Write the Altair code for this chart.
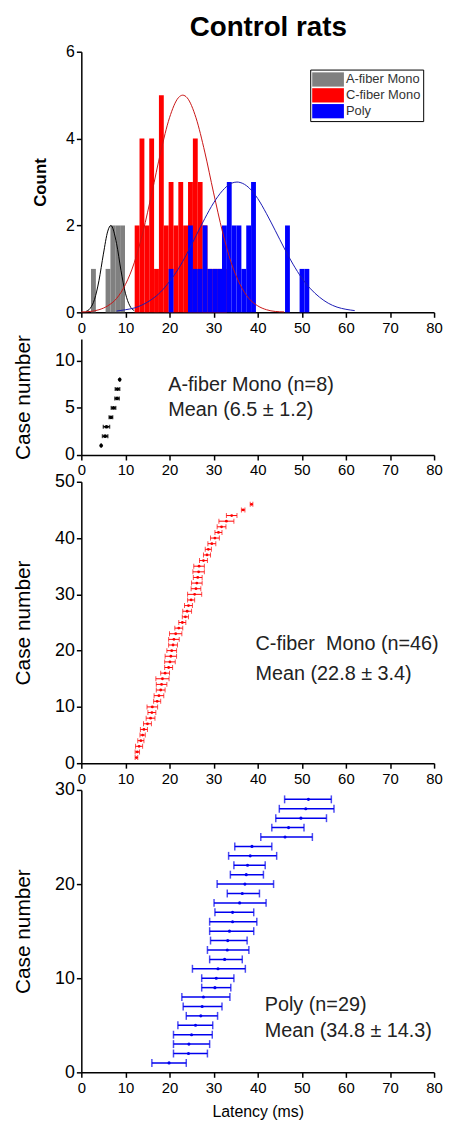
import altair as alt
import pandas as pd

FONT = "Liberation Sans"

# ---------------- Histogram (top panel) ----------------
groups = ["A-fiber Mono", "C-fiber Mono", "Poly"]
bar_fills = ["#808080", "#FF0000", "#0000FF"]
curve_colors = ["#000000", "#C81414", "#1A1AB4"]
bin_width = 1.1

a_bins = [2.2, 5.5, 6.6, 7.7, 8.8]
a_counts = [1, 1, 2, 2, 2]
c_bins = [12.1, 13.2, 14.3, 15.4, 16.5, 17.6, 18.7, 19.8, 20.9, 22.0, 23.1, 24.2,
          25.3, 26.4, 27.5, 28.6, 29.7, 30.8, 31.9]
c_counts = [2, 4, 2, 4, 1, 5, 2, 3, 2, 3, 2, 3, 4, 3, 2, 1, 1, 1, 1]
p_bins = [19.8, 24.2, 25.3, 26.4, 27.5, 28.6, 29.7, 30.8, 31.9, 33.0, 34.1, 35.2,
          36.3, 37.4, 38.5, 46.2, 49.5, 50.6]
p_counts = [1, 2, 1, 1, 2, 1, 1, 1, 2, 3, 2, 2, 1, 2, 3, 2, 1, 1]

# fitted curves
a_curve_x = [1, 2, 3, 4, 5, 6, 6.7, 8, 9, 10, 11, 12]
a_curve_y = [0.02, 0.09, 0.3, 0.73, 1.34, 1.87, 2.0, 1.58, 0.96, 0.44, 0.15, 0.04]
c_curve_x = [0, 2, 4, 6, 8, 10, 12, 14, 16, 18, 20, 22, 23, 24, 26, 28, 30, 32, 34,
             36, 38, 40, 42, 44, 46]
c_curve_y = [0.01, 0.02, 0.06, 0.15, 0.32, 0.64, 1.14, 1.86, 2.75, 3.69, 4.48, 4.94,
             5.0, 4.94, 4.48, 3.69, 2.75, 1.86, 1.14, 0.64, 0.32, 0.15, 0.06, 0.02, 0.01]
p_curve_x = [8, 10, 12, 14, 16, 18, 20, 22, 24, 26, 28, 30, 32, 34, 35.3, 36, 38, 40,
             42, 44, 46, 48, 50, 52, 54, 56, 58, 60, 62]
p_curve_y = [0.03, 0.06, 0.1, 0.18, 0.3, 0.47, 0.71, 1.0, 1.36, 1.76, 2.16, 2.52, 2.8,
             2.97, 3.0, 2.99, 2.87, 2.62, 2.27, 1.88, 1.48, 1.11, 0.79, 0.54, 0.35,
             0.21, 0.12, 0.07, 0.04]

# ---------------- Case panels ----------------
a_case = list(range(1, 9))
a_mean = [4.5, 5.4, 5.7, 6.7, 7.3, 8.1, 8.2, 8.7]
a_err = [0.0, 0.6, 0.7, 0.4, 0.5, 0.5, 0.5, 0.0]

c_case = list(range(1, 47))
c_mean = [12.5, 12.7, 13.1, 13.5, 13.9, 14.2, 15.0, 15.7, 16.0, 16.1, 17.2, 17.6, 18.0,
          18.2, 18.4, 19.0, 19.8, 20.1, 20.3, 20.5, 20.8, 21.0, 21.4, 22.1, 22.9, 23.6,
          24.0, 24.3, 24.9, 25.7, 26.0, 26.2, 26.4, 26.6, 26.7, 27.7, 28.5, 28.8, 29.6,
          30.3, 31.1, 31.8, 32.9, 34.1, 36.7, 38.6]
c_err = [0.3, 0.5, 0.8, 0.7, 0.6, 0.8, 0.9, 1.0, 0.9, 1.2, 0.8, 1.1, 1.0, 1.2, 1.5, 1.0,
         0.9, 1.2, 1.3, 1.1, 1.0, 1.2, 1.4, 0.9, 0.8, 0.7, 1.0, 0.9, 0.8, 1.6, 1.1, 1.2,
         1.0, 1.3, 1.2, 0.9, 0.8, 0.7, 0.9, 1.0, 0.8, 1.0, 1.7, 1.2, 0.4, 0.3]

p_case = list(range(1, 30))
p_mean = [19.9, 24.3, 24.4, 25.0, 25.9, 27.1, 27.4, 27.7, 30.3, 30.6, 31.0, 32.5, 33.1,
          33.2, 33.6, 34.3, 34.3, 35.9, 36.5, 37.1, 37.4, 37.7, 38.3, 38.7, 46.2, 47.0,
          49.8, 50.9, 51.5]
p_lo = [16.0, 20.9, 20.9, 20.9, 21.9, 23.8, 23.1, 22.8, 27.3, 27.3, 25.2, 29.1, 28.6,
        29.3, 29.1, 29.1, 30.3, 30.1, 33.1, 30.8, 33.8, 34.6, 33.4, 34.8, 40.7, 43.2,
        44.1, 44.9, 46.1]
p_hi = [23.8, 28.6, 29.1, 29.7, 29.8, 30.9, 31.9, 33.7, 33.9, 34.6, 37.2, 36.5, 38.0,
        37.6, 39.1, 39.8, 39.1, 41.9, 40.4, 43.6, 41.3, 41.7, 44.3, 43.2, 52.4, 50.5,
        55.6, 57.3, 56.7]

a_text = ["A-fiber Mono (n=8)", "Mean (6.5 \u00b1 1.2)"]
a_text_x = [19.7, 19.7]
a_text_y = [7.4, 4.8]
c_text = ["C-fiber\u00a0 Mono (n=46)", "Mean (22.8 \u00b1 3.4)"]
c_text_x = [39.5, 39.5]
c_text_y = [21.1, 15.8]
p_text = ["Poly (n=29)", "Mean (34.8 \u00b1 14.3)"]
p_text_x = [41.6, 41.6]
p_text_y = [7.2, 4.4]

# ---------------- Tables ----------------
hist = pd.DataFrame({
    "start": a_bins + c_bins + p_bins,
    "count": a_counts + c_counts + p_counts,
    "group": [groups[0]] * len(a_bins) + [groups[1]] * len(c_bins) + [groups[2]] * len(p_bins),
})
hist["end"] = hist["start"] + bin_width

curves = pd.DataFrame({
    "x": a_curve_x + c_curve_x + p_curve_x,
    "y": a_curve_y + c_curve_y + p_curve_y,
    "group": [groups[0]] * len(a_curve_x) + [groups[1]] * len(c_curve_x) + [groups[2]] * len(p_curve_x),
})

a_df = pd.DataFrame({"case": a_case, "mean": a_mean, "err": a_err})
a_df["lo"] = a_df["mean"] - a_df["err"]
a_df["hi"] = a_df["mean"] + a_df["err"]
c_df = pd.DataFrame({"case": c_case, "mean": c_mean, "err": c_err})
c_df["lo"] = c_df["mean"] - c_df["err"]
c_df["hi"] = c_df["mean"] + c_df["err"]
p_df = pd.DataFrame({"case": p_case, "mean": p_mean, "lo": p_lo, "hi": p_hi})

W = 356
X_SCALE = alt.Scale(domain=[0, 80], nice=False, zero=False)


def x_axis(title=None):
    return alt.Axis(values=list(range(0, 81, 5)),
                    labelExpr="datum.value % 10 === 0 ? datum.label : ''",
                    title=title, labelFontSize=15, titleFontSize=16,
                    titleFontWeight="normal", titlePadding=9, labelPadding=3,
                    labelFlush=False)


# ---------------- Panel 1 ----------------
bars = alt.Chart(hist).mark_bar(strokeWidth=0, opacity=1).encode(
    x=alt.X("start:Q", scale=X_SCALE, axis=x_axis()),
    x2="end:Q",
    y=alt.Y("count:Q", scale=alt.Scale(domain=[0, 6], nice=False),
            axis=alt.Axis(values=[0, 2, 4, 6], title="Count", titleFontWeight="bold",
                          titleFontSize=17, labelFontSize=16, titlePadding=16)),
    y2=alt.datum(0),
    fill=alt.Fill("group:N", scale=alt.Scale(domain=groups, range=bar_fills),
                  legend=alt.Legend(title=None, orient="none", legendX=231, legendY=18,
                                    direction="vertical",
                                    symbolType="M-2,-0.9H2V0.9H-2Z", symbolSize=256,
                                    symbolStrokeWidth=0, symbolOffset=8,
                                    labelOffset=10, labelFontSize=13,
                                    labelColor="#333333", rowPadding=0, padding=2,
                                    strokeColor="#000000", fillColor="#FFFFFF")),
)
lines = alt.Chart(curves).mark_line(strokeWidth=1, interpolate="monotone").encode(
    x=alt.X("x:Q", scale=X_SCALE),
    y=alt.Y("y:Q"),
    stroke=alt.Stroke("group:N", scale=alt.Scale(domain=groups, range=curve_colors),
                      legend=None),
)
panel1 = alt.layer(bars, lines).properties(width=W, height=263)


# ---------------- Case panels ----------------
def case_panel(df, texts, tx, ty, color, ymax, yvals, height, cap, dot, rule_w,
               xtitle=None):
    y_enc = alt.Y("case:Q", scale=alt.Scale(domain=[0, ymax], nice=False),
                  axis=alt.Axis(values=yvals, title="Case number", titleFontSize=21,
                                titleFontWeight="normal", labelFontSize=18,
                                titlePadding=21))
    base = alt.Chart(df)
    rule = base.mark_rule(color=color, strokeWidth=rule_w).encode(
        x=alt.X("lo:Q", scale=X_SCALE, axis=x_axis(xtitle)), x2="hi:Q", y=y_enc)
    cap_lo = base.mark_tick(color=color, orient="vertical", size=cap,
                            thickness=rule_w).encode(x="lo:Q", y="case:Q")
    cap_hi = base.mark_tick(color=color, orient="vertical", size=cap,
                            thickness=rule_w).encode(x="hi:Q", y="case:Q")
    pts = base.mark_point(color=color, filled=True, size=dot, opacity=1).encode(
        x="mean:Q", y="case:Q")
    tdf = pd.DataFrame({"x": tx, "y": ty, "label": texts})
    txt = alt.Chart(tdf).mark_text(align="left", baseline="middle", fontSize=20,
                                   color="#222222").encode(
        x="x:Q", y="y:Q", text="label:N")
    return alt.layer(rule, cap_lo, cap_hi, pts, txt).properties(width=W, height=height)


panel2 = case_panel(a_df, a_text, a_text_x, a_text_y, "#000000", 12.3, [0, 5, 10],
                    117, 4, 14, 1.5)
panel3 = case_panel(c_df, c_text, c_text_x, c_text_y, "#FF0000", 50,
                    [0, 10, 20, 30, 40, 50], 284, 5, 8, 1)
panel4 = case_panel(p_df, p_text, p_text_x, p_text_y, "#0000EE", 30, [0, 10, 20, 30],
                    285, 8, 10, 1.5, xtitle="Latency (ms)")

chart = alt.vconcat(panel1, panel2, panel3, panel4, spacing=27, bounds="flush").properties(
    title=alt.Title("Control rats", fontSize=28, fontWeight="bold", anchor="middle",
                    offset=2, dx=41, color="#000000"),
    padding={"left": 4, "top": 1, "right": 0, "bottom": 0},
).configure(font=FONT).configure_axis(
    grid=False, domainColor="#000000", domainWidth=1.5, tickColor="#000000",
    tickWidth=1.5, tickSize=5, labelColor="#000000", titleColor="#000000",
).configure_view(stroke=None)

chart.save("out.html", embed_options={"renderer": "svg", "actions": False})
